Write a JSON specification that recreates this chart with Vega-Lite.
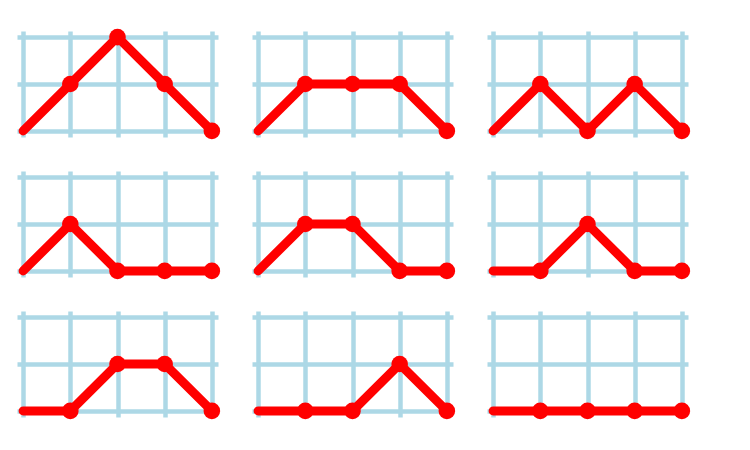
{
  "$schema": "https://vega.github.io/schema/vega-lite/v6.json",
  "padding": {"left": 5, "top": 19, "right": 5, "bottom": 5},
  "bounds": "flush",
  "data": {"values": [
    {"row": 1, "col": 1, "x": 0, "y": 0}, {"row": 1, "col": 1, "x": 1, "y": 1}, {"row": 1, "col": 1, "x": 2, "y": 2}, {"row": 1, "col": 1, "x": 3, "y": 1}, {"row": 1, "col": 1, "x": 4, "y": 0},
    {"row": 1, "col": 2, "x": 0, "y": 0}, {"row": 1, "col": 2, "x": 1, "y": 1}, {"row": 1, "col": 2, "x": 2, "y": 1}, {"row": 1, "col": 2, "x": 3, "y": 1}, {"row": 1, "col": 2, "x": 4, "y": 0},
    {"row": 1, "col": 3, "x": 0, "y": 0}, {"row": 1, "col": 3, "x": 1, "y": 1}, {"row": 1, "col": 3, "x": 2, "y": 0}, {"row": 1, "col": 3, "x": 3, "y": 1}, {"row": 1, "col": 3, "x": 4, "y": 0},
    {"row": 2, "col": 1, "x": 0, "y": 0}, {"row": 2, "col": 1, "x": 1, "y": 1}, {"row": 2, "col": 1, "x": 2, "y": 0}, {"row": 2, "col": 1, "x": 3, "y": 0}, {"row": 2, "col": 1, "x": 4, "y": 0},
    {"row": 2, "col": 2, "x": 0, "y": 0}, {"row": 2, "col": 2, "x": 1, "y": 1}, {"row": 2, "col": 2, "x": 2, "y": 1}, {"row": 2, "col": 2, "x": 3, "y": 0}, {"row": 2, "col": 2, "x": 4, "y": 0},
    {"row": 2, "col": 3, "x": 0, "y": 0}, {"row": 2, "col": 3, "x": 1, "y": 0}, {"row": 2, "col": 3, "x": 2, "y": 1}, {"row": 2, "col": 3, "x": 3, "y": 0}, {"row": 2, "col": 3, "x": 4, "y": 0},
    {"row": 3, "col": 1, "x": 0, "y": 0}, {"row": 3, "col": 1, "x": 1, "y": 0}, {"row": 3, "col": 1, "x": 2, "y": 1}, {"row": 3, "col": 1, "x": 3, "y": 1}, {"row": 3, "col": 1, "x": 4, "y": 0},
    {"row": 3, "col": 2, "x": 0, "y": 0}, {"row": 3, "col": 2, "x": 1, "y": 0}, {"row": 3, "col": 2, "x": 2, "y": 0}, {"row": 3, "col": 2, "x": 3, "y": 1}, {"row": 3, "col": 2, "x": 4, "y": 0},
    {"row": 3, "col": 3, "x": 0, "y": 0}, {"row": 3, "col": 3, "x": 1, "y": 0}, {"row": 3, "col": 3, "x": 2, "y": 0}, {"row": 3, "col": 3, "x": 3, "y": 0}, {"row": 3, "col": 3, "x": 4, "y": 0}
  ]},
  "facet": {
    "row": {"field": "row", "type": "ordinal", "header": {"title": null, "labels": false}},
    "column": {"field": "col", "type": "ordinal", "header": {"title": null, "labels": false}}
  },
  "spacing": {"row": 34, "column": 34},
  "spec": {
    "width": 201,
    "height": 106,
    "encoding": {
      "x": {"field": "x", "type": "quantitative",
        "scale": {"domain": [-0.13, 4.13], "nice": false, "zero": false},
        "axis": {"title": null, "labels": false, "ticks": false, "domain": false, "values": [0, 1, 2, 3, 4], "grid": true, "gridColor": "#add8e6", "gridWidth": 4.5, "gridOpacity": 1}},
      "y": {"field": "y", "type": "quantitative",
        "scale": {"domain": [-0.13, 2.13], "nice": false, "zero": false},
        "axis": {"title": null, "labels": false, "ticks": false, "domain": false, "values": [0, 1, 2], "grid": true, "gridColor": "#add8e6", "gridWidth": 4.5, "gridOpacity": 1}}
    },
    "layer": [
      {"mark": {"type": "line", "color": "red", "strokeWidth": 9, "strokeCap": "round", "strokeJoin": "miter"}},
      {"transform": [{"filter": "datum.x > 0"}],
       "mark": {"type": "circle", "color": "red", "opacity": 1, "size": 275}}
    ]
  },
  "config": {"view": {"stroke": null}}
}
